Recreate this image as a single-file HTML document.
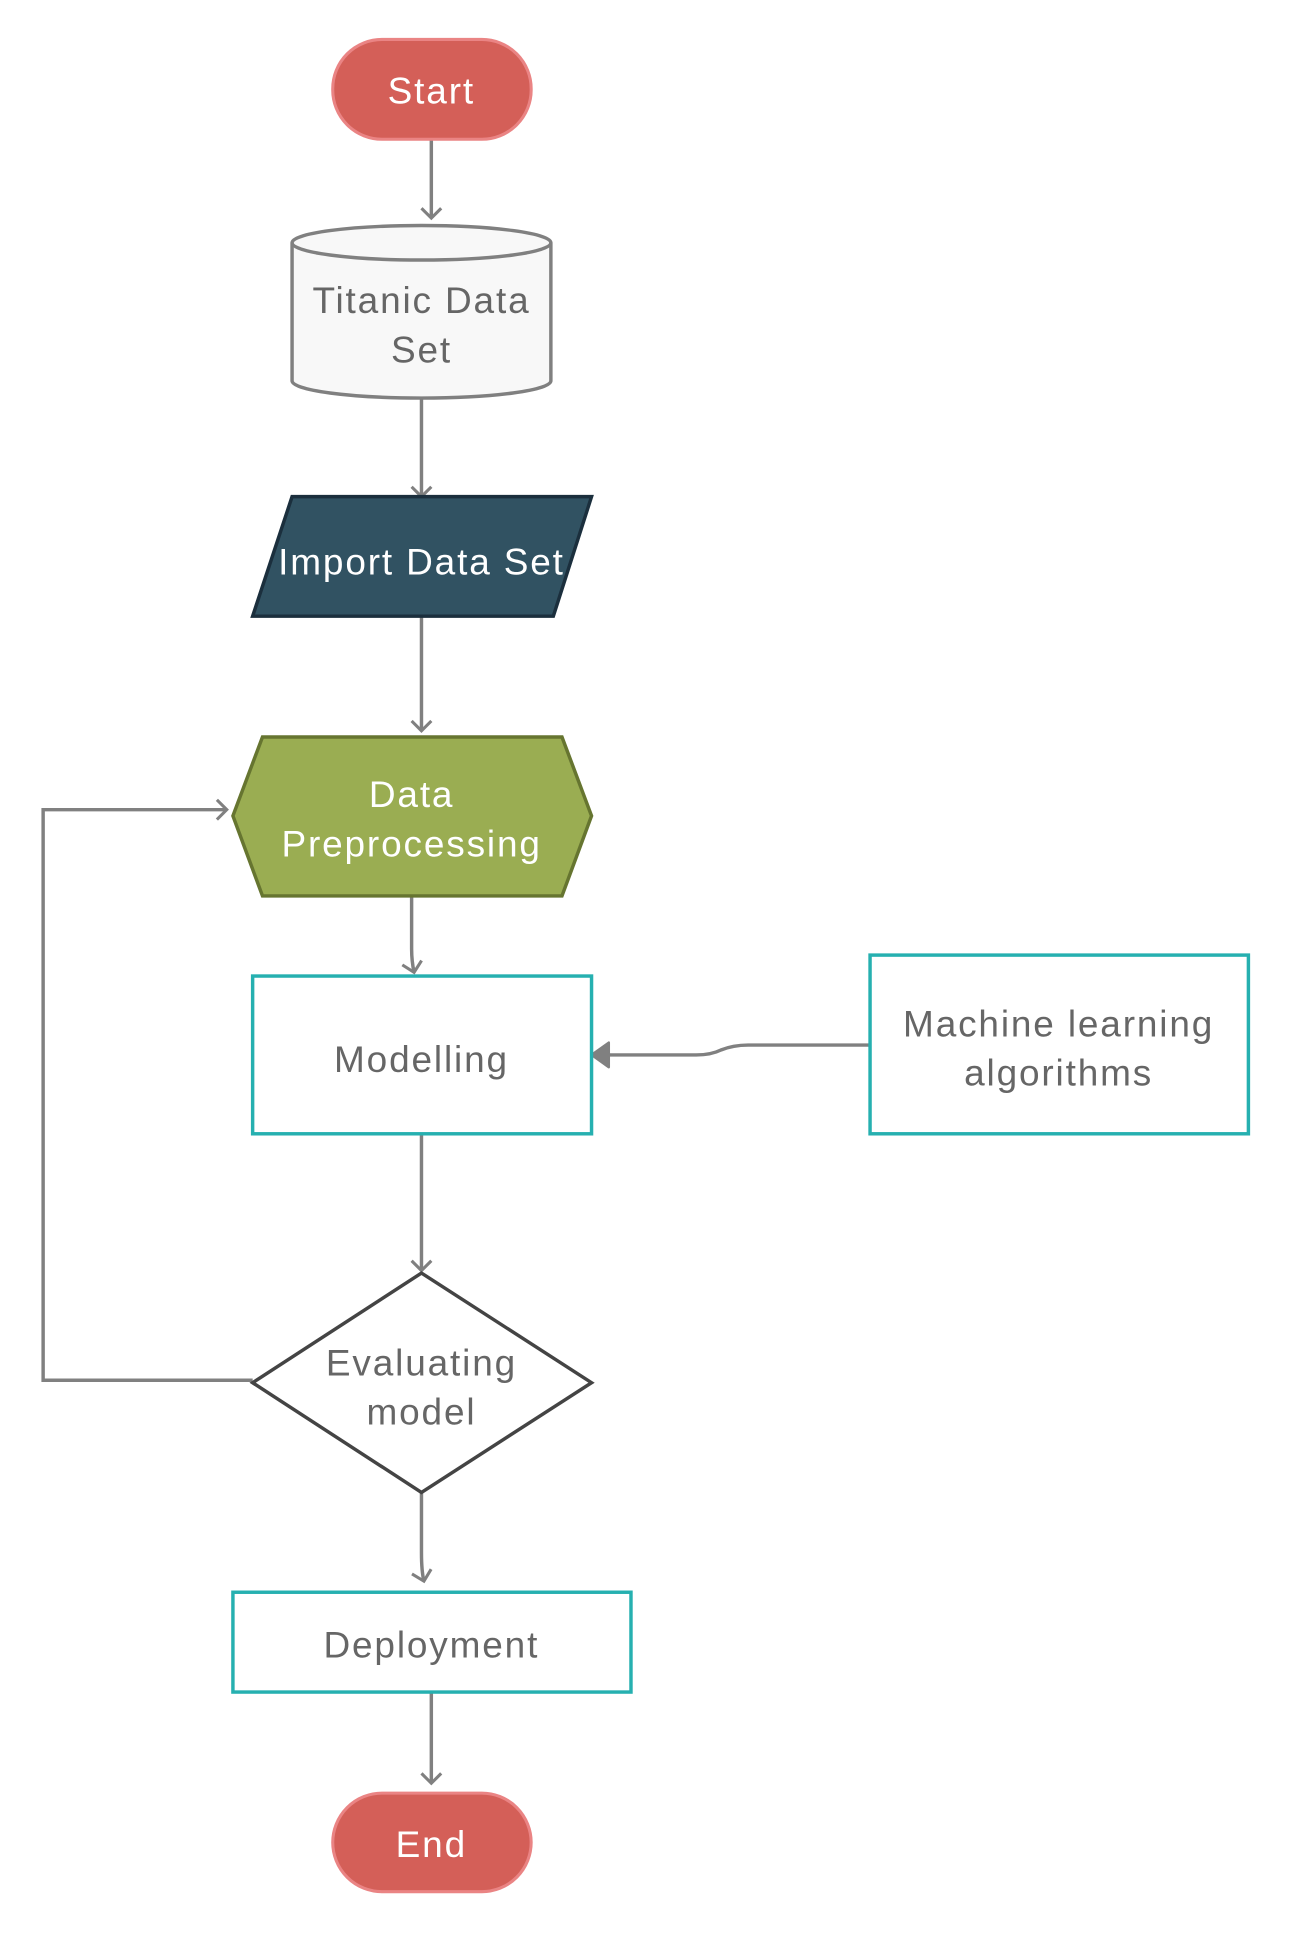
<!DOCTYPE html>
<html><head><meta charset="utf-8"><style>
html,body{margin:0;padding:0;background:#fff;}
svg{display:block;}
text{font-family:"Liberation Sans","DejaVu Sans",sans-serif;font-size:30px;letter-spacing:1.5px;text-anchor:middle;}
</style></head><body>
<svg width="1294" height="1941" viewBox="0 0 1050 1575" xmlns="http://www.w3.org/2000/svg">
<defs>
<marker id="open" markerWidth="20" markerHeight="20" refX="10" refY="10" orient="auto" markerUnits="userSpaceOnUse">
<path d="M2,2 L10,10 L2,18" fill="none" stroke="#808080" stroke-width="2.5"/>
</marker>
</defs>
<g fill="none" stroke="#808080" stroke-width="2.8">
<path d="M350,113 V177" marker-end="url(#open)"/>
<path d="M342,323 V403" marker-end="url(#open)"/>
<path d="M342,500 V593" marker-end="url(#open)"/>
<path d="M334,727 V770 Q334,780 336,789" marker-end="url(#open)"/>
<path d="M706,848 H607 Q595,848 585,852 Q577,856 565,856 H492"/>
<path d="M342,920 V1031" marker-end="url(#open)"/>
<path d="M205,1120 H35 V657 H184" marker-end="url(#open)"/>
<path d="M342,1211 V1260 Q342,1275 344,1283" marker-end="url(#open)"/>
<path d="M350,1373 V1447" marker-end="url(#open)"/>
</g>
<polygon points="480,856 494,846 494,866" fill="#808080" stroke="#808080" stroke-width="2" stroke-linejoin="round"/>

<rect x="270" y="32" width="161" height="81" rx="40" fill="#d45f58" stroke="#ea8484" stroke-width="2.5"/>
<text x="350" y="84" fill="#fff">Start</text>

<path d="M237,197 A105,14 0 0 1 447,197 V309 A105,14 0 0 1 237,309 Z" fill="#f8f8f8" stroke="#808080" stroke-width="2.8"/>
<path d="M237,197 A105,14 0 0 0 447,197" fill="none" stroke="#808080" stroke-width="2.8"/>
<text x="342" y="254" fill="#666">Titanic Data</text>
<text x="342" y="294" fill="#666">Set</text>

<polygon points="237,403 480,403 449,500 205,500" fill="#315262" stroke="#1b2f3d" stroke-width="2.8"/>
<text x="342" y="466" fill="#fff">Import Data Set</text>

<polygon points="213,598 456,598 480,662 456,727 213,727 189,662" fill="#9aad52" stroke="#667530" stroke-width="2.8"/>
<text x="334" y="655" fill="#fff">Data</text>
<text x="334" y="695" fill="#fff">Preprocessing</text>

<rect x="205" y="792" width="275" height="128" fill="#fff" stroke="#26b0b0" stroke-width="2.8"/>
<text x="342" y="870" fill="#666">Modelling</text>

<rect x="706" y="775" width="307" height="145" fill="#fff" stroke="#26b0b0" stroke-width="2.8"/>
<text x="859" y="841" fill="#666">Machine learning</text>
<text x="859" y="881" fill="#666">algorithms</text>

<polygon points="342,1033 480,1122 342,1211 205,1122" fill="#fff" stroke="#444" stroke-width="2.8"/>
<text x="342" y="1116" fill="#666">Evaluating</text>
<text x="342" y="1156" fill="#666">model</text>

<rect x="189" y="1292" width="323" height="81" fill="#fff" stroke="#26b0b0" stroke-width="2.8"/>
<text x="350" y="1345" fill="#666">Deployment</text>

<rect x="270" y="1455" width="161" height="80" rx="40" fill="#d45f58" stroke="#ea8484" stroke-width="2.5"/>
<text x="350" y="1507" fill="#fff">End</text>
</svg>
</body></html>
